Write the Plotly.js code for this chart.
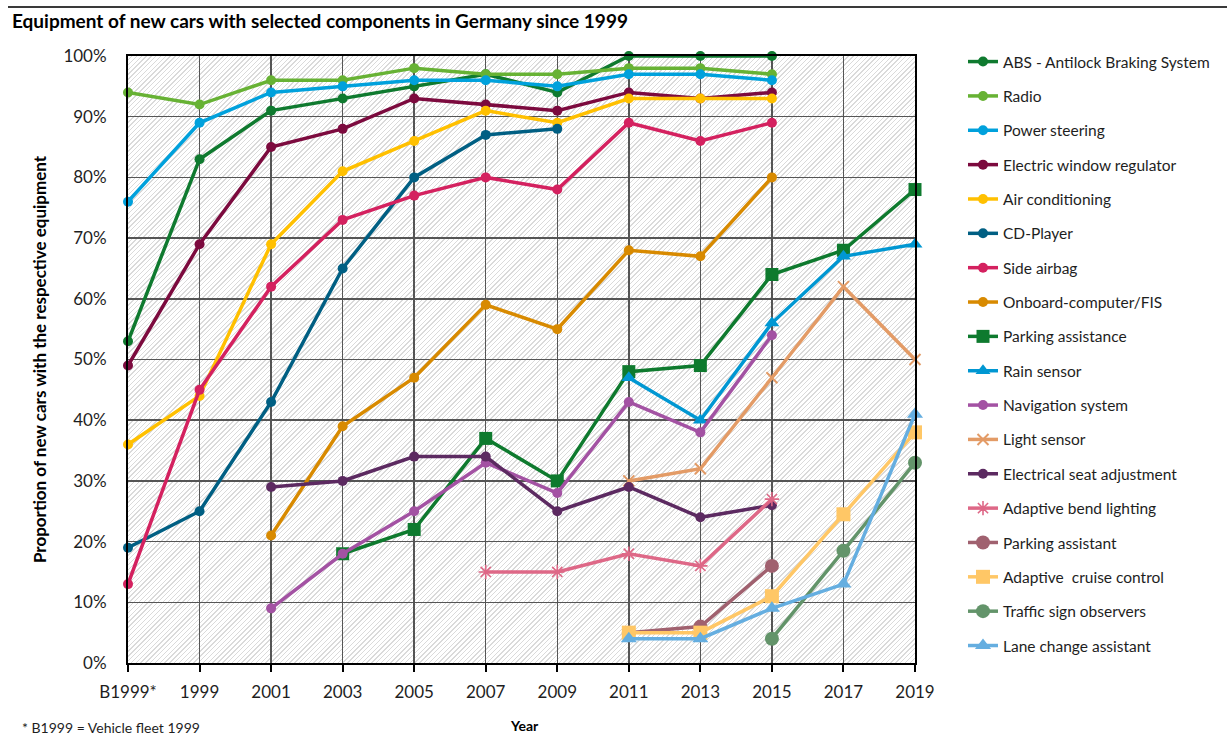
<!DOCTYPE html>
<html>
<head>
<meta charset="utf-8">
<script src="https://cdn.plot.ly/plotly-3.0.1.min.js"></script>
<style>
  html, body { margin: 0; padding: 0; background: #ffffff; }
  #wrap { position: relative; width: 1227px; height: 737px; }
  /* diagonal hatching behind the plotting area */
  #hatch {
    position: absolute; left: 128px; top: 56px; width: 787px; height: 607px;
    background: repeating-linear-gradient(135deg, #ffffff 0px, #ffffff 2.4px, #dadada 2.4px, #dadada 3.4px);
    z-index: 0;
  }
  #chart { position: absolute; left: 0; top: 0; width: 1227px; height: 737px; z-index: 1; }
</style>
</head>
<body>
<div id="wrap">
  <div id="hatch"></div>
  <div id="chart"></div>
</div>
<script>
// Survey years (B1999* = vehicle fleet 1999)
const years = ['B1999*', '1999', '2001', '2003', '2005', '2007', '2009', '2011', '2013', '2015', '2017', '2019'];

// Share of new cars with each component, in percent
const abs            = [53, 83, 91, 93, 95, 97, 94, 100, 100, 100, null, null];
const radio          = [94, 92, 96, 96, 98, 97, 97, 98, 98, 97, null, null];
const powerSteering  = [76, 89, 94, 95, 96, 96, 95, 97, 97, 96, null, null];
const windowRegulator= [49, 69, 85, 88, 93, 92, 91, 94, 93, 94, null, null];
const airCon         = [36, 44, 69, 81, 86, 91, 89, 93, 93, 93, null, null];
const cdPlayer       = [19, 25, 43, 65, 80, 87, 88, null, null, null, null, null];
const sideAirbag     = [13, 45, 62, 73, 77, 80, 78, 89, 86, 89, null, null];
const onboardComputer= [null, null, 21, 39, 47, 59, 55, 68, 67, 80, null, null];
const parkingAssist  = [null, null, null, 18, 22, 37, 30, 48, 49, 64, 68, 78];
const rainSensor     = [null, null, null, null, null, null, null, 47, 40, 56, 67, 69];
const navigation     = [null, null, 9, 18, 25, 33, 28, 43, 38, 54, null, null];
const lightSensor    = [null, null, null, null, null, null, null, 30, 32, 47, 62, 50];
const seatAdjust     = [null, null, 29, 30, 34, 34, 25, 29, 24, 26, null, null];
const bendLighting   = [null, null, null, null, null, 15, 15, 18, 16, 27, null, null];
const parkingAssistant = [null, null, null, null, null, null, null, 5, 6, 16, null, null];
const cruiseControl  = [null, null, null, null, null, null, null, 5, 5, 11, 24.5, 38];
const signObservers  = [null, null, null, null, null, null, null, null, null, 4, 18.5, 33];
const laneChange     = [null, null, null, null, null, null, null, 4, 4, 9, 13, 41];

const FONT = 'Lato, "Open Sans", sans-serif';

function series(name, values, color, symbol, size, extra) {
  const t = {
    type: 'scatter',
    mode: 'lines+markers',
    name: name,
    legendgroup: name,
    x: years,
    y: values,
    cliponaxis: false,
    connectgaps: false,
    line: { color: color, width: 3.5 },
    marker: { color: color, symbol: symbol, size: size, line: { width: 0, color: color } },
    hovertemplate: '%{x}: %{y}%<extra>' + name + '</extra>'
  };
  if (extra) Object.assign(t.marker, extra);
  return t;
}

const traces = [
  series('ABS - Antilock Braking System', abs, '#0f7a2f', 'circle', 10),
  series('Radio', radio, '#67b234', 'circle', 10),
  series('Power steering', powerSteering, '#00a1dc', 'circle', 10),
  series('Electric window regulator', windowRegulator, '#7c0a3e', 'circle', 10),
  series('Air conditioning', airCon, '#ffc000', 'circle', 10),
  series('CD-Player', cdPlayer, '#005f83', 'circle', 10),
  series('Side airbag', sideAirbag, '#d4215f', 'circle', 10),
  series('Onboard-computer/FIS', onboardComputer, '#d88a00', 'circle', 10),
  series('Parking assistance', parkingAssist, '#0e7a2e', 'square', 13),
  series('Rain sensor', rainSensor, '#0097d2', 'triangle-up', 13),
  series('Navigation system', navigation, '#a352a3', 'circle', 10),
  series('Light sensor', lightSensor, '#e39b66', 'x-thin-open', 11, { line: { width: 2, color: '#e39b66' } }),
  series('Electrical seat adjustment', seatAdjust, '#5c2a61', 'circle', 10),
  series('Adaptive bend lighting', bendLighting, '#de6887', 'asterisk-open', 12, { line: { width: 1.6, color: '#de6887' } }),
  series('Parking assistant', parkingAssistant, '#a0616f', 'circle', 14),
  series('Adaptive  cruise control', cruiseControl, '#ffc766', 'square', 14),
  series('Traffic sign observers', signObservers, '#63946a', 'circle', 14),
  series('Lane change assistant', laneChange, '#65aee0', 'triangle-up', 14)
];

const layout = {
  width: 1227,
  height: 737,
  margin: { l: 128, r: 312, t: 56, b: 74, pad: 0 },
  paper_bgcolor: 'rgba(0,0,0,0)',
  plot_bgcolor: 'rgba(0,0,0,0)',
  font: { family: FONT, color: '#1e1e1e', size: 15 },
  title: {
    text: 'Equipment of new cars with selected components in Germany since 1999',
    xref: 'container', yref: 'container',
    x: 12 / 1227, xanchor: 'left',
    y: 1 - 21 / 737, yanchor: 'middle',
    font: { family: FONT, size: 19, weight: 'bold', color: '#000000' }
  },
  xaxis: {
    type: 'category',
    range: [0, years.length - 1],
    showgrid: true,
    gridcolor: '#555555',
    gridwidth: 1.5,
    showline: true,
    linecolor: '#000000',
    linewidth: 2,
    mirror: true,
    ticks: 'outside',
    ticklen: 7,
    tickwidth: 2,
    tickcolor: '#000000',
    ticklabelstandoff: 6,
    tickfont: { family: FONT, size: 17, color: '#1e1e1e' },
    zeroline: false,
    fixedrange: true
  },
  yaxis: {
    range: [0, 100],
    dtick: 10,
    tick0: 0,
    ticksuffix: '%',
    showgrid: true,
    gridcolor: '#555555',
    gridwidth: 1.5,
    showline: true,
    linecolor: '#000000',
    linewidth: 2,
    mirror: true,
    ticks: '',
    ticklabelstandoff: 16,
    tickfont: { family: FONT, size: 17, color: '#1e1e1e' },
    zeroline: false,
    fixedrange: true,
    title: {
      text: 'Proportion of new cars with the respective equipment',
      standoff: 12,
      font: { family: FONT, size: 17, weight: 'bold', color: '#000000' }
    }
  },
  showlegend: true,
  legend: {
    x: (963 - 128) / 787,
    xanchor: 'left',
    y: (663 - 45) / 607,
    yanchor: 'top',
    maxheight: 720,
    traceorder: 'grouped',
    tracegroupgap: 11.2,
    bgcolor: 'rgba(0,0,0,0)',
    borderwidth: 0,
    font: { family: FONT, size: 15.5, color: '#1e1e1e' }
  },
  shapes: [
    {
      type: 'line', xref: 'paper', yref: 'paper',
      x0: (8 - 128) / 787, x1: (1227 - 128) / 787,
      y0: (663 - 7) / 607, y1: (663 - 7) / 607,
      line: { color: '#3a3a3a', width: 2 }
    }
  ],
  annotations: [
    {
      text: 'Year', xref: 'paper', yref: 'paper',
      x: (524 - 128) / 787, y: (663 - 725) / 607,
      xanchor: 'center', yanchor: 'middle', showarrow: false,
      font: { family: FONT, size: 14, weight: 'bold', color: '#000000' }
    },
    {
      text: '* B1999 = Vehicle fleet 1999', xref: 'paper', yref: 'paper',
      x: (20 - 128) / 787, y: (663 - 727) / 607,
      xanchor: 'left', yanchor: 'middle', showarrow: false,
      font: { family: FONT, size: 14, color: '#1e1e1e' }
    }
  ]
};

Plotly.newPlot('chart', traces, layout, { staticPlot: true, displayModeBar: false });
</script>
</body>
</html>
